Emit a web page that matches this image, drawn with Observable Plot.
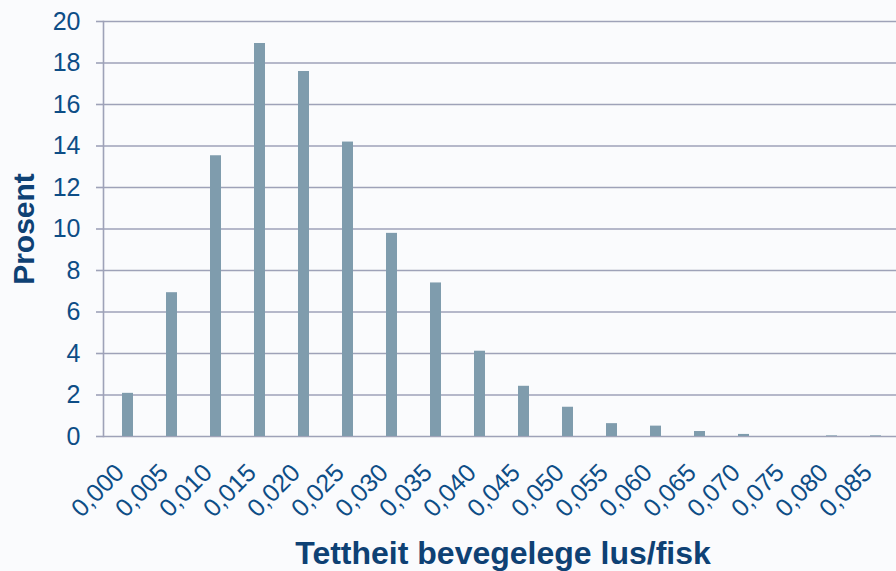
<!DOCTYPE html>
<html>
<head>
<meta charset="utf-8">
<script src="https://cdn.jsdelivr.net/npm/d3@7"></script>
<script src="https://cdn.jsdelivr.net/npm/@observablehq/plot@0.6"></script>
<style>
  html, body { margin: 0; padding: 0; background: #fafbfd; }
  #chart svg { display: block; }
</style>
</head>
<body>
<div id="chart"></div>
<script>
const categories = ["0,000","0,005","0,010","0,015","0,020","0,025","0,030","0,035","0,040","0,045","0,050","0,055","0,060","0,065","0,070","0,075","0,080","0,085"];
const values = [2.08, 6.93, 13.53, 18.94, 17.59, 14.19, 9.79, 7.40, 4.11, 2.42, 1.41, 0.62, 0.50, 0.24, 0.10, 0, 0.03, 0.03];
const yTicks = [0, 2, 4, 6, 8, 10, 12, 14, 16, 18, 20];
const xTitle = "Tettheit bevegelege lus/fisk";
const yTitle = "Prosent";

const data = categories.map((c, i) => ({cat: c, value: values[i]}));

const tickColor = "#0d4d86";
const titleColor = "#0e4174";
const gridColor = "#9ea2b8";
const barColor = "#7f9cad";

const chart = Plot.plot({
  width: 896,
  height: 571,
  marginLeft: 103,
  marginRight: 0,
  marginTop: 21,
  marginBottom: 135,
  style: {background: "#fafbfd", fontFamily: "'Liberation Sans', Arial, sans-serif", fontSize: "25px"},
  x: {type: "band", domain: categories, range: [103, 900], paddingInner: 0.75, paddingOuter: 0.375},
  y: {domain: [0, 20]},
  marks: [
    Plot.ruleY(yTicks, {stroke: gridColor, strokeWidth: 1.6}),
    Plot.frame({anchor: "left", stroke: gridColor, strokeWidth: 1.6}),
    Plot.barY(data, {x: "cat", y: "value", fill: barColor}),
    Plot.axisY({ticks: yTicks, tickSize: 7, tickPadding: 16, fontSize: 25, color: tickColor, stroke: gridColor, strokeWidth: 1.6, label: null}),
    Plot.axisX({tickSize: 0, tickPadding: 26, tickRotate: -45, fontSize: 25, dx: -8, dy: 6, color: tickColor, label: null}),
    Plot.text([xTitle], {text: d => d, frameAnchor: "bottom", dx: 3, dy: 117, lineAnchor: "middle", textAnchor: "middle", fontSize: 32, fontWeight: "bold", fill: titleColor}),
    Plot.text([yTitle], {text: d => d, frameAnchor: "left", dx: -79, rotate: -90, lineAnchor: "middle", textAnchor: "middle", fontSize: 30, fontWeight: "bold", fill: titleColor})
  ]
});
document.getElementById("chart").append(chart);
</script>
</body>
</html>
